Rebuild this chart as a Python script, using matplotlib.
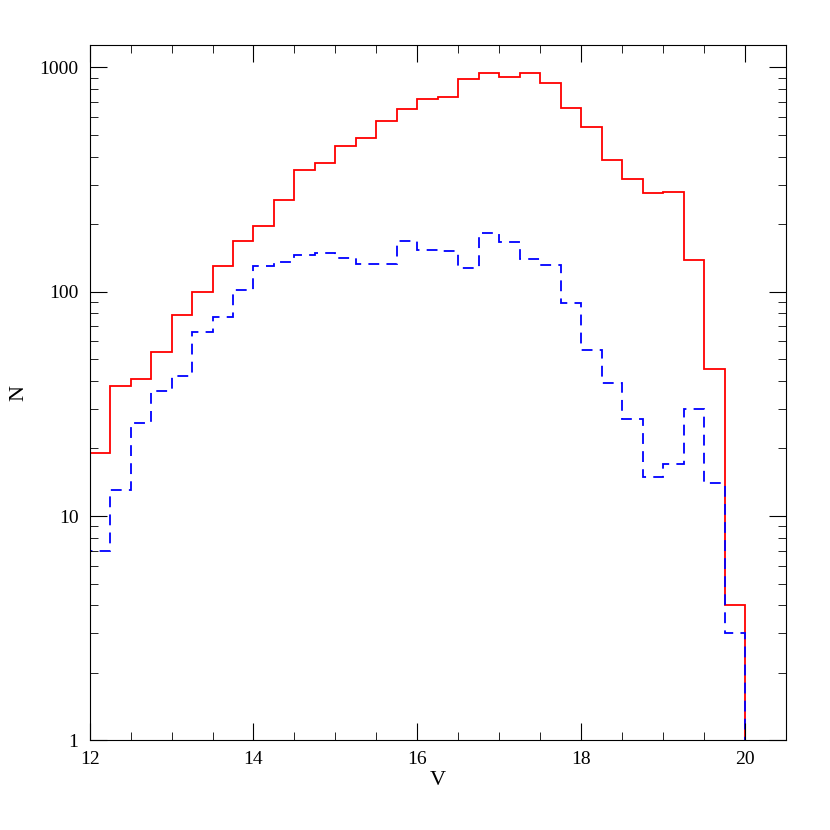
import numpy as np
import matplotlib.pyplot as plt
from matplotlib.ticker import FixedLocator, LogLocator, NullFormatter

plt.rcParams['font.family'] = ['Liberation Serif', 'DejaVu Serif']

# histogram counts per 0.25 mag bin, starting at V=12
bin_start = 12.0
bin_width = 0.25
n_all = [19, 38, 41, 54, 79, 100, 130, 169, 197, 257, 350, 373, 444, 482, 574, 649,
         720, 735, 884, 940, 910, 940, 848, 662, 540, 388, 319, 274, 279, 139, 45, 4]
n_sub = [7, 13, 26, 36, 42, 66, 77, 102, 130, 136, 145, 148, 142, 133, 133, 169,
         154, 152, 127, 183, 166, 140, 131, 89, 55, 39, 27, 15, 17, 30, 14, 3]

edges = bin_start + bin_width * np.arange(len(n_all) + 1)

fig = plt.figure(figsize=(8.3, 8.3), dpi=100)
ax = fig.add_axes([0.108, 0.108, 0.839, 0.838])

ax.stairs(n_all, edges, baseline=1, color='red', lw=1.3)
ax.stairs(n_sub, edges, baseline=1, color='blue', lw=1.3, ls=(0, (6, 4)))

ax.set_yscale('log')
ax.set_xlim(12, 20.5)
ax.set_ylim(1, 1260)
ax.set_xticks([12, 14, 16, 18, 20])
ax.xaxis.set_minor_locator(FixedLocator(np.arange(12, 20.51, 0.5)))
ax.set_yticks([1, 10, 100, 1000])
ax.set_yticklabels(['1', '10', '100', '1000'])
ax.yaxis.set_minor_locator(LogLocator(base=10, subs=np.arange(2, 10)))
ax.yaxis.set_minor_formatter(NullFormatter())
ax.tick_params(which='both', direction='in', top=True, right=True, labelsize=14)
ax.tick_params(which='major', length=12, pad=8)
ax.tick_params(which='minor', length=6)
ax.set_xlabel('V', fontsize=16, labelpad=2)
ax.set_ylabel('N', fontsize=16, labelpad=8)

fig.savefig('out.png')
